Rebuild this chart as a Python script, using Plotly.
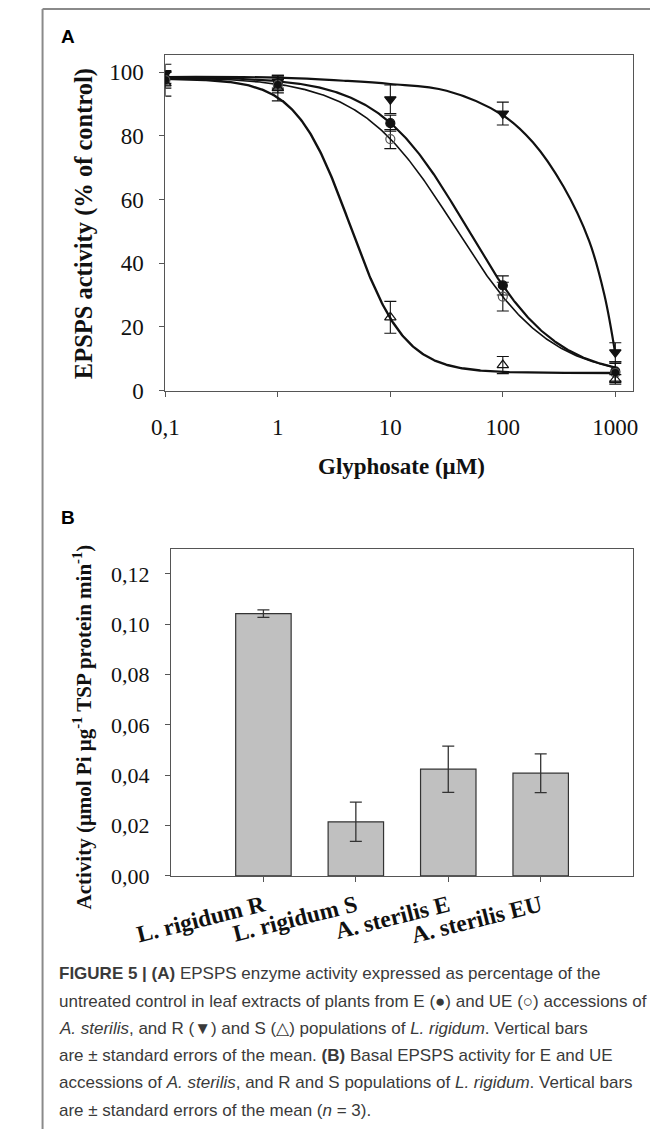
import numpy as np
import plotly.graph_objects as go

W, H = 655, 1142


def px(x):
    return x / W


def py(y):
    return 1 - y / H


# ---------------- Panel A data ----------------
glyphosate_uM = [0.1, 1, 10, 100, 1000]
x_tickvals_a = [0.1, 1, 10, 100, 1000]
x_ticktext_a = ["0,1", "1", "10", "100", "1000"]
y_tickvals_a = [0, 20, 40, 60, 80, 100]

r_mean = [99.5, 97.0, 91.5, 87.0, 12.0]
r_se = [3.0, 2.0, 4.5, 3.6, 3.0]
e_mean = [98.0, 96.5, 84.0, 33.0, 6.0]
e_se = [2.0, 2.0, 2.5, 3.0, 3.0]
ue_mean = [97.5, 96.0, 79.0, 29.5, 5.5]
ue_se = [2.5, 2.5, 3.0, 4.5, 3.0]
s_mean = [96.5, 95.0, 23.0, 8.0, 3.5]
s_se = [4.0, 4.0, 5.0, 2.7, 1.5]

# fitted dose-response curves (log-logistic: lower, upper, ED50, slope)
e_fit = [4.0, 98.5, 47.6, 1.1]
ue_fit = [4.0, 98.5, 37.6, 1.02]
s_fit = [5.5, 98.0, 4.4, 1.8]
# the R curve
r_curve_x = [0.1, 1, 4, 10, 31.6, 100, 185, 347, 585, 800, 1000]
r_curve_y = [98.5, 98.3, 97.3, 96.3, 94.2, 86.5, 78.0, 64.0, 47.0, 30.0, 11.5]

# ---------------- Panel B data ----------------
populations = ["L. rigidum R", "L. rigidum S", "A. sterilis E", "A. sterilis EU"]
basal_activity = [0.1042, 0.0215, 0.0424, 0.0408]
basal_se = [0.0015, 0.0078, 0.0092, 0.0077]
y_tickvals_b = [0.0, 0.02, 0.04, 0.06, 0.08, 0.10, 0.12]
y_ticktext_b = ["0,00", "0,02", "0,04", "0,06", "0,08", "0,10", "0,12"]

caption_lines = [
    "<b>FIGURE 5 | (A)</b> EPSPS enzyme activity expressed as percentage of the",
    "untreated control in leaf extracts of plants from E (●) and UE (○) accessions of",
    "<i>A. sterilis</i>, and R (▼) and S (△) populations of <i>L. rigidum</i>. Vertical bars",
    "are ± standard errors of the mean. <b>(B)</b> Basal EPSPS activity for E and UE",
    "accessions of <i>A. sterilis</i>, and R and S populations of <i>L. rigidum</i>. Vertical bars",
    "are ± standard errors of the mean (<i>n</i> = 3).",
]


def loglogistic(params, x):
    c, d, e, b = params
    x = np.asarray(x, dtype=float)
    return c + (d - c) / (1 + (x / e) ** b)


SERIF = "Liberation Serif, Times New Roman, serif"
SANS = "Liberation Sans, Arial, sans-serif"
INK = "#111111"
AX = "#555555"

fig = go.Figure()

xg = np.logspace(-1, 3, 400)
for params, width in [(e_fit, 2.2), (ue_fit, 1.6), (s_fit, 2.4)]:
    fig.add_trace(go.Scatter(x=xg, y=loglogistic(params, xg), mode="lines",
                             line=dict(color=INK, width=width),
                             xaxis="x", yaxis="y", showlegend=False, hoverinfo="skip"))
fig.add_trace(go.Scatter(x=r_curve_x, y=r_curve_y, mode="lines",
                         line=dict(color=INK, width=2.2, shape="spline", smoothing=1.0),
                         xaxis="x", yaxis="y", showlegend=False, hoverinfo="skip"))

series = [
    (r_mean, r_se, "triangle-down", INK, 10),
    (e_mean, e_se, "circle", INK, 9),
    (ue_mean, ue_se, "circle-open", "#555555", 9),
    (s_mean, s_se, "triangle-up-open", INK, 10),
]
for vals, errs, sym, col, size in series:
    fig.add_trace(go.Scatter(
        x=glyphosate_uM, y=vals, mode="markers",
        marker=dict(symbol=sym, color=col, size=size, line=dict(color=col, width=1.2)),
        error_y=dict(type="data", array=errs, visible=True, color=INK, thickness=1.1, width=6),
        xaxis="x", yaxis="y", showlegend=False))

fig.add_trace(go.Bar(
    x=populations, y=basal_activity,
    marker=dict(color="#c0c0c0", line=dict(color="#333333", width=1.2)),
    width=0.6,
    error_y=dict(type="data", array=basal_se, visible=True, color="#333333", thickness=1.3, width=6),
    xaxis="x2", yaxis="y2", showlegend=False))

axis_common = dict(showline=True, mirror=True, linecolor=AX, linewidth=1.2,
                   ticks="outside", ticklen=5, tickcolor=AX, tickwidth=1.2,
                   showgrid=False, zeroline=False,
                   tickfont=dict(family=SERIF, size=23, color=INK))

fig.update_layout(
    width=W, height=H,
    margin=dict(l=0, r=0, t=0, b=0),
    paper_bgcolor="white", plot_bgcolor="white",
    xaxis=dict(axis_common, type="log", domain=[px(138), px(637)],
               range=[-1, np.log10(1440)], tickvals=x_tickvals_a, ticktext=x_ticktext_a,
               ticklabelstandoff=11, anchor="y"),
    yaxis=dict(axis_common, domain=[py(395), py(56)], range=[0, 105.3],
               tickvals=y_tickvals_a, ticklabelstandoff=11, anchor="x"),
    xaxis2=dict(axis_common, domain=[px(144), px(637)], range=[-1, 4],
                tickangle=-14, anchor="y2", ticklabelstandoff=1,
                tickfont=dict(family=SERIF, size=23.5, color=INK, weight="bold")),
    yaxis2=dict(axis_common, domain=[py(886), py(555)], range=[0, 0.13],
                tickvals=y_tickvals_b, ticktext=y_ticktext_b, ticklabelstandoff=11,
                tickfont=dict(family=SERIF, size=22, color=INK), anchor="x2"),
)

# frame
fig.add_shape(type="line", xref="paper", yref="paper", x0=px(7), x1=1.0, y0=py(9), y1=py(9),
              line=dict(color="#8a8a8a", width=2))
fig.add_shape(type="line", xref="paper", yref="paper", x0=px(7), x1=px(7), y0=py(9), y1=0,
              line=dict(color="#8a8a8a", width=2))

ann = []
ann.append(dict(text="<b>A</b>", x=px(25), y=py(37), xanchor="left", yanchor="middle",
                font=dict(family=SANS, size=19, color="black")))
ann.append(dict(text="<b>B</b>", x=px(25), y=py(523), xanchor="left", yanchor="middle",
                font=dict(family=SANS, size=19, color="black")))
ann.append(dict(text="<b>EPSPS activity (% of control)</b>", x=px(52), y=py(226),
                textangle=-90, xanchor="center", yanchor="middle",
                font=dict(family=SERIF, size=24.5, color=INK)))
ann.append(dict(text="<b>Glyphosate (μM)</b>", x=px(390), y=py(472),
                xanchor="center", yanchor="middle",
                font=dict(family=SERIF, size=23, color=INK)))
ann.append(dict(text="<b>Activity (μmol Pi μg<sup>-1</sup> TSP protein min<sup>-1</sup>)</b>",
                x=px(50), y=py(735), textangle=-90, xanchor="center", yanchor="middle",
                font=dict(family=SERIF, size=21, color=INK)))
cap_y = [985, 1012.6, 1040.2, 1067.8, 1095.4, 1123]
for line, yy in zip(caption_lines, cap_y):
    ann.append(dict(text=line, x=px(22), y=py(yy), xanchor="left", yanchor="middle",
                    font=dict(family=SANS, size=17, color="#3a3a3a")))
for a in ann:
    a.update(xref="paper", yref="paper", showarrow=False)
fig.update_layout(annotations=ann)

fig.write_html("out.html", config={"displayModeBar": False},
               post_script="document.body.style.margin='0';document.body.style.overflow='hidden';")
